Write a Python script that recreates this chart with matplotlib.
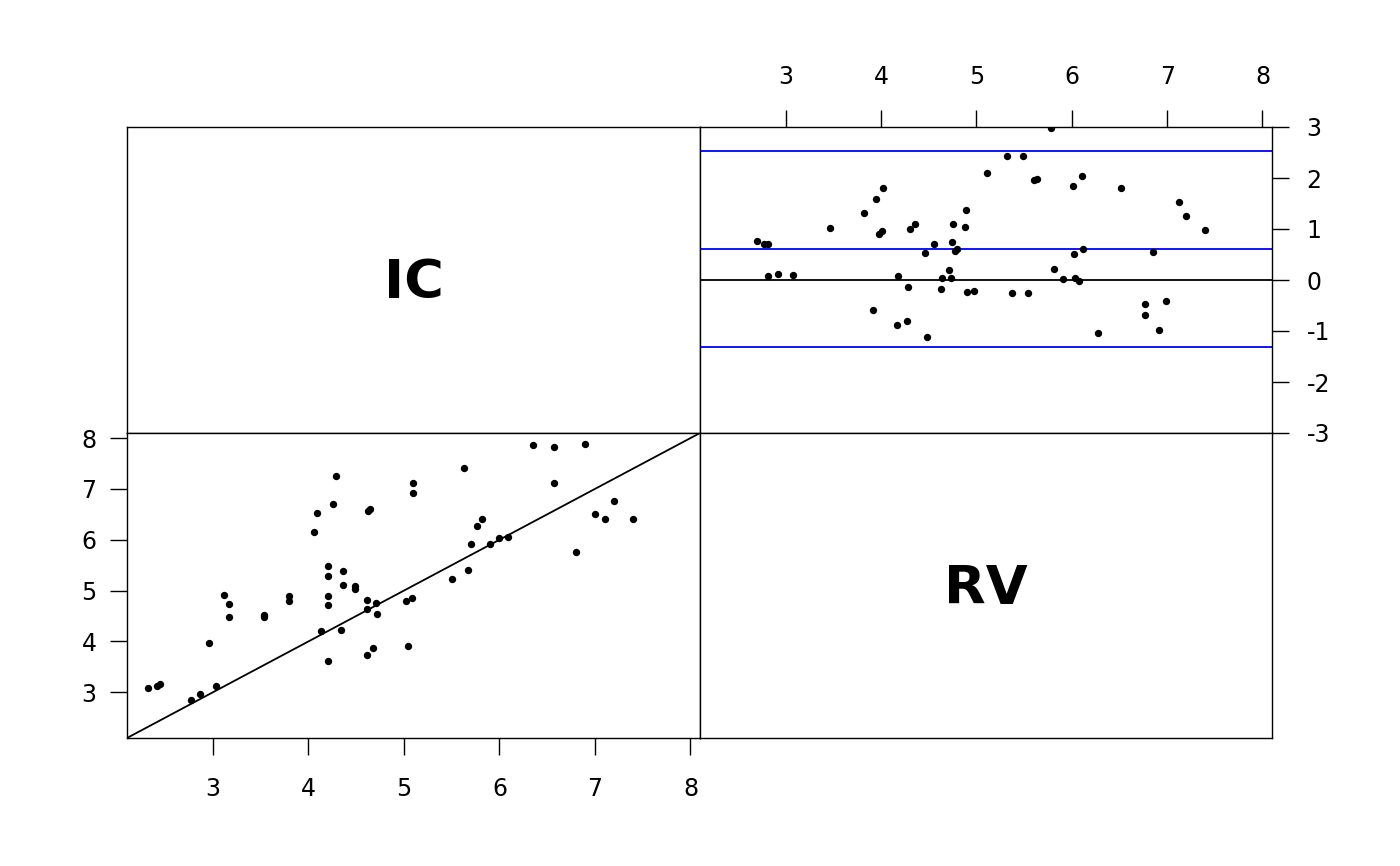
import matplotlib
matplotlib.use("Agg")
import matplotlib.pyplot as plt

# lower-left panel: IC (x) vs RV (y)
ic = [2.32, 2.41, 2.45, 2.77, 2.86, 3.03, 2.96, 3.12, 3.17, 3.17,
      3.53, 3.53, 3.80, 3.80, 4.06, 4.09, 4.13, 4.20, 4.20, 4.20,
      4.20, 4.20, 4.26, 4.29, 4.36, 4.36, 4.34, 4.49, 4.49, 4.61,
      4.61, 4.61, 4.62, 4.64, 4.68, 4.71, 4.72, 5.02, 5.04, 5.08,
      5.09, 5.09, 5.63, 5.50, 5.67, 5.70, 5.76, 5.82, 5.90, 6.00,
      6.09, 6.35, 6.57, 6.57, 6.90, 6.80, 7.00, 7.10, 7.20, 7.40]
rv = [3.08, 3.12, 3.16, 2.84, 2.96, 3.12, 3.96, 4.91, 4.73, 4.48,
      4.48, 4.52, 4.89, 4.79, 6.15, 6.52, 4.20, 5.48, 5.28, 4.89,
      4.71, 3.61, 6.70, 7.25, 5.38, 5.11, 4.22, 5.09, 5.03, 4.81,
      4.63, 3.73, 6.56, 6.60, 3.87, 4.75, 4.54, 4.79, 3.91, 4.85,
      7.11, 6.92, 7.41, 5.22, 5.40, 5.91, 6.27, 6.41, 5.91, 6.03,
      6.05, 7.86, 7.82, 7.11, 7.88, 5.76, 6.50, 6.41, 6.76, 6.41]

# upper-right panel: mean vs difference (Bland-Altman)
ba_mean = [2.70, 2.77, 2.81, 2.81, 2.92, 3.08, 3.46, 3.82, 3.95, 4.02,
           3.91, 3.98, 4.01, 4.18, 4.17, 4.27, 4.28, 4.30, 4.35, 4.48,
           4.46, 4.55, 4.63, 4.64, 4.71, 4.73, 4.74, 4.75, 4.78, 4.80,
           4.88, 4.89, 4.90, 4.97, 5.11, 5.78, 5.32, 5.49, 5.60, 5.63,
           6.01, 6.11, 6.52, 7.12, 7.20, 7.40, 6.02, 6.12, 6.85, 5.81,
           5.91, 6.03, 6.08, 5.37, 5.54, 6.28, 6.77, 6.77, 6.99, 6.91]
ba_diff = [0.77, 0.70, 0.71, 0.08, 0.12, 0.10, 1.01, 1.31, 1.58, 1.80,
           -0.59, 0.91, 0.96, 0.07, -0.89, -0.81, -0.13, 1.00, 1.10, -1.12,
           0.52, 0.70, -0.18, 0.03, 0.20, 0.04, 0.75, 1.09, 0.56, 0.60,
           1.03, 1.37, -0.24, -0.22, 2.10, 2.98, 2.44, 2.44, 1.97, 1.99,
           1.84, 2.03, 1.80, 1.52, 1.26, 0.99, 0.51, 0.60, 0.55, 0.22,
           0.01, 0.04, -0.02, -0.26, -0.25, -1.04, -0.48, -0.68, -0.42, -0.99]
ba_lines = [2.53, 0.61, -1.31]

names = ["IC", "RV"]
lims = (2.1, 8.1)
ticks = [3, 4, 5, 6, 7, 8]
dticks = [-3, -2, -1, 0, 1, 2, 3]

plt.rcParams['font.family'] = ['DejaVu Sans']
plt.rcParams['axes.unicode_minus'] = False
fig = plt.figure(figsize=(14, 8.66), dpi=100)

x0, xm, x1 = 127 / 1400, 700 / 1400, 1272 / 1400
y1, ym, y0 = 1 - 127 / 866, 1 - 433 / 866, 1 - 738 / 866
w = xm - x0
h = y1 - ym

ax_ic = fig.add_axes([x0, ym, w, h])
ax_ba = fig.add_axes([xm, ym, x1 - xm, h])
ax_sc = fig.add_axes([x0, y0, w, ym - y0])
ax_rv = fig.add_axes([xm, y0, x1 - xm, ym - y0])

for ax in [ax_ic, ax_ba, ax_sc, ax_rv]:
    for s in ax.spines.values():
        s.set_linewidth(1.0)
    ax.tick_params(length=12, width=1.0, labelsize=17, direction='out')

for ax, name in [(ax_ic, names[0]), (ax_rv, names[1])]:
    ax.set_xlim(0, 1)
    ax.set_ylim(0, 1)
    ax.set_xticks([])
    ax.set_yticks([])
    ax.text(0.5, 0.49, name, ha='center', va='center', fontsize=39,
            fontweight='bold')

# scatter with identity line
ax_sc.plot(lims, lims, color='black', lw=1.3)
ax_sc.scatter(ic, rv, s=28, color='black', linewidths=0, zorder=3)
ax_sc.set_xlim(lims)
ax_sc.set_ylim(lims)
ax_sc.set_xticks(ticks)
ax_sc.set_yticks(ticks)
ax_sc.tick_params(axis='x', pad=16)
ax_sc.tick_params(axis='y', pad=10)

# Bland-Altman panel
ax_ba.axhline(0, color='black', lw=1.3)
for v in ba_lines:
    ax_ba.axhline(v, color='#0000FF', lw=1.3)
ax_ba.scatter(ba_mean, ba_diff, s=28, color='black', linewidths=0, zorder=3)
ax_ba.set_xlim(lims)
ax_ba.set_ylim(-3, 3)
ax_ba.set_xticks(ticks)
ax_ba.set_yticks(dticks)
ax_ba.xaxis.tick_top()
ax_ba.yaxis.tick_right()
ax_ba.tick_params(axis='x', pad=15)
ax_ba.tick_params(axis='y', pad=13)

fig.savefig("out.png", dpi=100)
